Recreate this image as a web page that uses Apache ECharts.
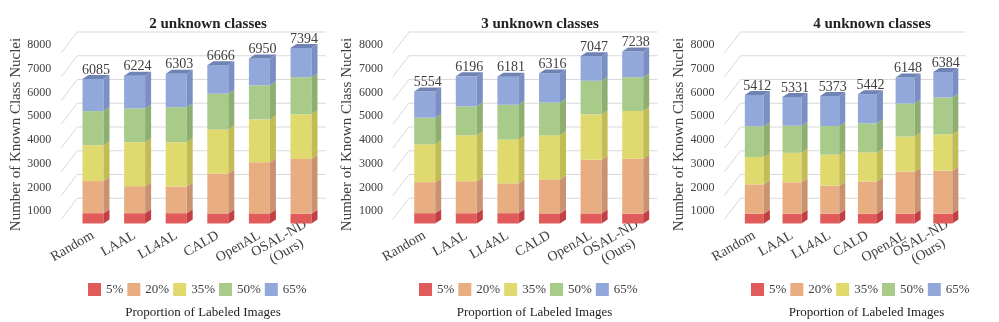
<!DOCTYPE html>
<html>
<head>
<meta charset="utf-8">
<script src="https://cdn.jsdelivr.net/npm/echarts@6/dist/echarts.min.js"></script>
<style>html,body{margin:0;padding:0;background:#fff}#c{width:999px;height:322px}</style>
</head>
<body>
<div id="c"></div>
<script>
// ---------- data ----------
const categories = ['Random', 'LAAL', 'LL4AL', 'CALD', 'OpenAL', 'OSAL-ND\n(Ours)'];
const proportions = ['5%', '20%', '35%', '50%', '65%'];
const panelTitles = ['2 unknown classes', '3 unknown classes', '4 unknown classes'];
const yTicks = [1000, 2000, 3000, 4000, 5000, 6000, 7000, 8000];
const yAxisTitle = 'Number of Known Class Nuclei';
const xAxisTitle = 'Proportion of Labeled Images';

// 2 unknown classes
const totals2 = [6085, 6224, 6303, 6666, 6950, 7394];
const p5_2  = [435, 434, 434, 424, 426, 412];
const p20_2 = [1352, 1138, 1124, 1682, 2158, 2307];
const p35_2 = [1508, 1854, 1865, 1848, 1800, 1883];
const p50_2 = [1437, 1420, 1474, 1513, 1435, 1559];
const p65_2 = [1353, 1378, 1406, 1199, 1131, 1233];

// 3 unknown classes
const totals3 = [5554, 6196, 6181, 6316, 7047, 7238];
const p5_3  = [435, 433, 435, 422, 425, 413];
const p20_3 = [1307, 1346, 1254, 1434, 2254, 2312];
const p35_3 = [1590, 1935, 1847, 1856, 1914, 2014];
const p50_3 = [1125, 1220, 1462, 1380, 1416, 1422];
const p65_3 = [1097, 1262, 1183, 1224, 1038, 1077];

// 4 unknown classes
const totals4 = [5412, 5331, 5373, 5442, 6148, 6384];
const p5_4  = [407, 410, 409, 409, 409, 412];
const p20_4 = [1242, 1325, 1182, 1362, 1773, 1810];
const p35_4 = [1150, 1240, 1308, 1223, 1477, 1529];
const p50_4 = [1300, 1142, 1207, 1224, 1392, 1558];
const p65_4 = [1313, 1214, 1267, 1224, 1097, 1075];

// ---------- styling ----------
const FONT = "'Liberation Serif', 'Times New Roman', serif";
const TXT = '#404040';
const frontColors = ['#E15B5B', '#E8AE82', '#E0DA6E', '#A9CB89', '#92A8DB'];
const sideColors  = ['#C23F44', '#C99372', '#C2BC55', '#8EAF71', '#7A8FC2'];
const topColor = '#6F83B5';
const DX = 6, DY = -4;

const panels = [
  { segs: [p5_2, p20_2, p35_2, p50_2, p65_2], totals: totals2 },
  { segs: [p5_3, p20_3, p35_3, p50_3, p65_3], totals: totals3 },
  { segs: [p5_4, p20_4, p35_4, p50_4, p65_4], totals: totals4 }
];
const gridLefts = [72.2, 403.9, 735.5];
const GRID_W = 249.6, GRID_TOP = 33.5, GRID_H = 190;
const titleCenters = [203, 535, 867];
const captionCenters = [198, 529.5, 861.5];
const legendLefts = [83, 414, 746];

// category items: multi-line labels are centred line by line
const categoryItems = categories.map(c => c.indexOf('\n') >= 0
  ? { value: c, textStyle: { align: 'center', padding: [13, 42, 0, 0] } }
  : c);

const grid = [], xAxis = [], yAxis = [], series = [], title = [], legend = [];

panels.forEach((pn, p) => {
  grid.push({ left: gridLefts[p], top: GRID_TOP, width: GRID_W, height: GRID_H });
  xAxis.push({
    type: 'category', gridIndex: p, data: categoryItems,
    axisLine: { show: false }, axisTick: { show: false }, splitLine: { show: false },
    axisLabel: {
      interval: 0, rotate: 30, margin: 11, color: TXT, fontFamily: FONT, fontSize: 14, lineHeight: 15
    }
  });
  yAxis.push({
    type: 'value', gridIndex: p, min: 0, max: 8000, interval: 1000,
    axisLine: { show: false }, axisTick: { show: false }, splitLine: { show: false },
    axisLabel: {
      showMinLabel: false, margin: 21, color: TXT, fontFamily: FONT, fontSize: 12,
      verticalAlign: 'top', lineHeight: 23,
      formatter: function (v) { return String(v); }
    },
    name: yAxisTitle, nameLocation: 'middle', nameGap: 48, nameRotate: 90,
    nameTextStyle: { color: TXT, fontFamily: FONT, fontSize: 15, padding: [0, 12, 0, 0] }
  });
  title.push({
    text: panelTitles[p], left: titleCenters[p], top: 12, textAlign: 'center',
    textStyle: { fontFamily: FONT, fontSize: 15, fontWeight: 'bold', color: '#222' }
  });
  title.push({
    text: xAxisTitle, left: captionCenters[p], top: 301, textAlign: 'center',
    textStyle: { fontFamily: FONT, fontSize: 13, fontWeight: 'normal', color: '#222' }
  });
  legend.push({
    data: proportions, left: legendLefts[p], top: 278, itemWidth: 13, itemHeight: 13,
    itemGap: 4, icon: 'rect',
    textStyle: { fontFamily: FONT, fontSize: 13, color: TXT }
  });

  // back wall grid lines
  series.push({
    type: 'custom', xAxisIndex: p, yAxisIndex: p, silent: true, z: 0,
    data: yTicks.map(v => [0, v]), encode: { x: 0, y: 1 },
    renderItem: function (params, api) {
      const cs = params.coordSys;
      const y = api.coord([0, api.value(1)])[1] - 1.5;
      const x0 = cs.x + 5, x1 = cs.x + cs.width + 4;
      return {
        type: 'polyline',
        shape: { points: [[x0 - 16, y + 21], [x0, y], [x1, y]] },
        style: { stroke: '#d9d9d9', lineWidth: 1, fill: null }
      };
    }
  });

  // stacked 3D bars
  const base = categories.map(() => 0);
  pn.segs.forEach((vals, s) => {
    const isTop = s === pn.segs.length - 1;
    const data = vals.map((v, i) => {
      const d = [i, base[i], v, pn.totals[i]];
      base[i] += v;
      return d;
    });
    series.push({
      type: 'custom', name: proportions[s], xAxisIndex: p, yAxisIndex: p, z: 2,
      itemStyle: { color: frontColors[s] },
      data: data, encode: { x: 0, y: 2 },
      renderItem: function (params, api) {
        const i = api.value(0), b = api.value(1), v = api.value(2), tot = api.value(3);
        const p0 = api.coord([i, b]), p1 = api.coord([i, b + v]);
        const w = api.size([1, 0])[0] * 0.505;
        const xl = p0[0] - w / 2, xr = p0[0] + w / 2, yb = p0[1], yt = p1[1];
        const children = [
          { type: 'rect', shape: { x: xl, y: yt, width: w, height: yb - yt }, style: { fill: frontColors[s] } },
          { type: 'polygon', shape: { points: [[xr, yt], [xr + DX, yt + DY], [xr + DX, yb + DY], [xr, yb]] }, style: { fill: sideColors[s] } }
        ];
        if (isTop) {
          children.push({
            type: 'text',
            style: { text: String(tot), x: p0[0] + 3, y: yt - 2, align: 'center', verticalAlign: 'bottom',
              fontFamily: FONT, fontSize: 14, fill: TXT }
          });
          children.push({
            type: 'polygon', shape: { points: [[xl, yt], [xl + DX, yt + DY], [xr + DX, yt + DY], [xr, yt]] },
            style: { fill: topColor }
          });
        }
        return { type: 'group', children: children };
      }
    });
  });
});

const chart = echarts.init(document.getElementById('c'), null, { renderer: 'canvas' });
chart.setOption({
  backgroundColor: '#ffffff',
  animation: false,
  title: title, legend: legend, grid: grid, xAxis: xAxis, yAxis: yAxis, series: series
});
</script>
</body>
</html>
